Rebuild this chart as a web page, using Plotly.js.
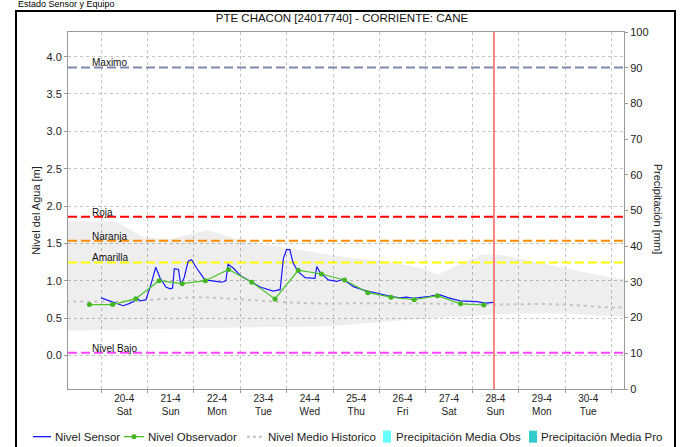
<!DOCTYPE html>
<html>
<head>
<meta charset="utf-8">
<script src="https://cdn.plot.ly/plotly-3.0.1.min.js"></script>
<style>
  html, body { margin:0; padding:0; background:#fff; width:684px; height:447px; overflow:hidden; }
  #chart { position:absolute; left:0; top:0; width:684px; height:447px; }
  #frame { position:absolute; left:15px; top:10px; width:661px; height:460px; box-sizing:border-box; border:2px solid #000; pointer-events:none; }
  #heading { position:absolute; left:18px; top:-1px; font-family:"Liberation Sans", Arial, sans-serif; font-size:9px; line-height:11px; color:#000; white-space:nowrap; }
</style>
</head>
<body>
<div id="heading">Estado Sensor y Equipo</div>
<div id="chart"></div>
<div id="frame"></div>
<script>
// ---------- data ----------
const chartTitle = 'PTE CHACON [24017740] - CORRIENTE: CANE';
const xRange = ['2024-04-19 06:56', '2024-05-01 06:30'];
const nowTime = '2024-04-28 11:15';

// day tick labels (placed at the middle of each day)
const tickDays = ['2024-04-20','2024-04-21','2024-04-22','2024-04-23','2024-04-24','2024-04-25','2024-04-26','2024-04-27','2024-04-28','2024-04-29','2024-04-30'];
const dayLabels = ['20-4','21-4','22-4','23-4','24-4','25-4','26-4','27-4','28-4','29-4','30-4'];
const weekdayLabels = ['Sat','Sun','Mon','Tue','Wed','Thu','Fri','Sat','Sun','Mon','Tue'];

// Nivel Sensor [m]
const sensorTime = ['2024-04-20 00:00','2024-04-20 04:30','2024-04-20 11:30','2024-04-20 14:10','2024-04-20 17:00','2024-04-20 18:40','2024-04-20 20:10','2024-04-20 23:15',
  '2024-04-21 01:30','2024-04-21 04:20','2024-04-21 06:30','2024-04-21 09:35','2024-04-21 11:45','2024-04-21 13:00','2024-04-21 13:55','2024-04-21 16:05','2024-04-21 17:15','2024-04-21 19:00','2024-04-21 21:05','2024-04-21 22:50',
  '2024-04-22 01:25','2024-04-22 05:45','2024-04-22 10:05','2024-04-22 14:25','2024-04-22 16:35','2024-04-22 17:45','2024-04-22 20:25',
  '2024-04-23 00:00','2024-04-23 10:20','2024-04-23 17:00','2024-04-23 20:40','2024-04-23 22:20',
  '2024-04-24 00:00','2024-04-24 01:40','2024-04-24 03:20','2024-04-24 06:00','2024-04-24 09:35','2024-04-24 14:40','2024-04-24 15:35','2024-04-24 17:15','2024-04-24 21:35',
  '2024-04-25 01:55','2024-04-25 05:15','2024-04-25 10:35','2024-04-25 17:30','2024-04-25 22:35',
  '2024-04-26 05:30','2024-04-26 10:35','2024-04-26 14:00','2024-04-26 17:30',
  '2024-04-27 02:10','2024-04-27 03:50','2024-04-27 07:25','2024-04-27 11:45','2024-04-27 17:45',
  '2024-04-28 02:25','2024-04-28 06:45','2024-04-28 11:00'];
const sensorLevel = [0.77,0.73,0.665,0.69,0.72,0.77,0.73,0.745,
  0.92,1.18,1.04,0.915,0.89,0.90,1.16,1.15,0.95,1.04,1.26,1.28,
  1.17,1.01,1.00,0.98,1.00,1.22,1.17,
  1.07,0.915,0.86,0.88,1.30,
  1.415,1.415,1.24,1.12,1.04,1.03,1.19,1.11,1.01,
  0.99,1.02,0.92,0.86,0.835,
  0.79,0.77,0.78,0.765,
  0.79,0.80,0.81,0.77,0.73,
  0.72,0.70,0.71];

// Nivel Observador [m]
const obsTime = ['2024-04-19 18:00','2024-04-20 06:00','2024-04-20 18:00','2024-04-21 06:00','2024-04-21 18:00','2024-04-22 06:00','2024-04-22 18:00','2024-04-23 06:00','2024-04-23 18:00',
  '2024-04-24 06:00','2024-04-24 18:00','2024-04-25 06:00','2024-04-25 18:00','2024-04-26 06:00','2024-04-26 18:00','2024-04-27 06:00','2024-04-27 18:00','2024-04-28 06:00'];
const obsLevel = [0.68,0.68,0.76,1.00,0.96,1.00,1.15,0.98,0.755,1.14,1.09,1.01,0.84,0.78,0.745,0.80,0.69,0.675];

// Nivel Medio Historico [m]
const meanTime = ['2024-04-19 06:00','2024-04-19 12:00','2024-04-20 00:00','2024-04-20 12:00','2024-04-21 00:00','2024-04-21 12:00','2024-04-22 00:00','2024-04-22 12:00','2024-04-23 00:00','2024-04-23 12:00',
  '2024-04-24 00:00','2024-04-24 12:00','2024-04-25 00:00','2024-04-25 12:00','2024-04-26 00:00','2024-04-26 12:00','2024-04-27 00:00','2024-04-27 12:00','2024-04-28 00:00','2024-04-28 12:00',
  '2024-04-29 00:00','2024-04-29 12:00','2024-04-30 00:00','2024-04-30 12:00','2024-05-01 00:00','2024-05-01 12:00'];
const meanLevel = [0.72,0.72,0.73,0.72,0.74,0.76,0.78,0.77,0.75,0.73,0.71,0.70,0.69,0.70,0.70,0.69,0.69,0.70,0.69,0.68,0.69,0.69,0.68,0.66,0.64,0.64];

// historical envelope (min / max) [m]
const bandTime = ['2024-04-19 06:00','2024-04-20 00:00','2024-04-20 08:00','2024-04-20 14:00','2024-04-20 22:00','2024-04-21 12:00','2024-04-22 00:00','2024-04-22 07:00','2024-04-23 00:00','2024-04-23 12:00',
  '2024-04-24 00:00','2024-04-24 12:00','2024-04-25 00:00','2024-04-25 12:00','2024-04-26 00:00','2024-04-26 12:00','2024-04-27 00:00','2024-04-27 06:00','2024-04-27 14:00','2024-04-28 05:00',
  '2024-04-28 14:00','2024-04-29 05:00','2024-04-30 00:00','2024-04-30 12:00','2024-05-01 00:00','2024-05-01 12:00'];
const bandMax = [1.80,1.80,1.79,1.70,1.58,1.56,1.64,1.68,1.54,1.48,1.44,1.39,1.34,1.30,1.27,1.22,1.15,1.08,1.18,1.35,1.35,1.27,1.17,1.10,1.04,1.01];
const bandMin = [0.33,0.34,0.34,0.345,0.35,0.36,0.37,0.37,0.38,0.38,0.38,0.38,0.39,0.42,0.44,0.47,0.49,0.50,0.52,0.54,0.55,0.56,0.56,0.54,0.52,0.51];

// precipitation [mm]
const precipObsDays = ['2024-04-20 12:00','2024-04-21 12:00','2024-04-22 12:00','2024-04-23 12:00','2024-04-24 12:00','2024-04-25 12:00','2024-04-26 12:00','2024-04-27 12:00'];
const precipObs = [0,0,0,0,0,0,0,0];
const precipProDays = ['2024-04-28 12:00','2024-04-29 12:00','2024-04-30 12:00'];
const precipPro = [0,0,0];

// alert thresholds [m]
const thresholdNames = ['Maximo','Roja','Naranja','Amarilla','Nivel Bajo'];
const thresholdValues = [3.855,1.855,1.535,1.245,0.035];
const thresholdColors = ['#7f87ad','#ff0000','#ff8c00','#ffff00','#ff44ff'];

// series names / colours (legend)
const seriesNames = ['Nivel Sensor','Nivel Observador','Nivel Medio Historico','Precipitación Media Obs','Precipitación Media Pro'];
const seriesColors = ['#1a1aff','#4cc42a','#c4c4c4','#66ffff','#33cccc'];

// ---------- build ----------
const FONT = '"Liberation Sans", Arial, sans-serif';
const traces = [];

traces.push({x: bandTime, y: bandMin, type:'scatter', mode:'lines', line:{width:0, color:'rgba(0,0,0,0)'}, showlegend:false, hoverinfo:'skip'});
traces.push({x: bandTime, y: bandMax, type:'scatter', mode:'lines', line:{width:0, color:'rgba(0,0,0,0)'}, fill:'tonexty', fillcolor:'rgba(0,0,0,0.065)', showlegend:false, hoverinfo:'skip'});

thresholdValues.forEach(function(v, i){
  traces.push({x: xRange, y: [v, v], type:'scatter', mode:'lines', line:{color: thresholdColors[i], width:2, dash:'9px,4px'}, showlegend:false, hoverinfo:'skip'});
});

traces.push({x: precipObsDays, y: precipObs, type:'bar', yaxis:'y2', name: seriesNames[3], marker:{color: seriesColors[3], line:{width:0}}, showlegend:false});
traces.push({x: precipProDays, y: precipPro, type:'bar', yaxis:'y2', name: seriesNames[4], marker:{color: seriesColors[4], line:{width:0}}, showlegend:false});
traces.push({x: meanTime, y: meanLevel, type:'scatter', mode:'lines', name: seriesNames[2], line:{color: seriesColors[2], width:2, dash:'3px,4px'}, showlegend:false});
traces.push({x: sensorTime, y: sensorLevel, type:'scatter', mode:'lines', name: seriesNames[0], line:{color: seriesColors[0], width:1.2}, showlegend:false});
traces.push({x: obsTime, y: obsLevel, type:'scatter', mode:'lines+markers', name: seriesNames[1], line:{color: seriesColors[1], width:1.2}, marker:{color:'#44b522', size:5, symbol:'circle'}, showlegend:false});

const annotations = thresholdNames.map(function(n, i){
  return {text: n, xref:'paper', x: 0.04, xanchor:'left', yref:'y', y: thresholdValues[i], yanchor:'bottom', yshift:-3, showarrow:false, font:{family:FONT, size:10, color:'#111'}};
});
annotations.push({text:'Precipitación [mm]', xref:'paper', x: 1.0, xshift: 34, xanchor:'center', yref:'paper', y:0.505, yanchor:'middle', textangle:90, showarrow:false, font:{family:FONT, size:11, color:'#222'}});

// ----- legend row (drawn below the plot, in paper units) -----
const PL = 68, PW = 556, PB = 389.3, PH = 357.3;
function px(x){ return (x - PL) / PW; }
function py(y){ return (PB - y) / PH; }
const legY = 437;
const legendSymbolX = [[33, 51], [124, 144], [247, 263], [383, 391], [529, 537]];
const legendTextX = [53, 146, 266, 394, 539];
const shapes = [{type:'line', xref:'x', yref:'paper', x0: nowTime, x1: nowTime, y0:0, y1:1, line:{color:'#ff5a5a', width:1.5}}];
seriesNames.forEach(function(n, i){
  const s = legendSymbolX[i];
  if (i < 3) {
    shapes.push({type:'line', xref:'paper', yref:'paper', x0: px(s[0]), x1: px(s[1]), y0: py(legY), y1: py(legY),
      line:{color: seriesColors[i], width: i === 2 ? 2 : 1.3, dash: i === 2 ? '3px,3px' : 'solid'}});
    if (i === 1) {
      const c = (s[0] + s[1]) / 2;
      shapes.push({type:'circle', xref:'paper', yref:'paper', x0: px(c - 2.5), x1: px(c + 2.5), y0: py(legY + 2.5), y1: py(legY - 2.5),
        fillcolor:'#44b522', line:{width:0}});
    }
  } else {
    shapes.push({type:'rect', xref:'paper', yref:'paper', x0: px(s[0]), x1: px(s[1]), y0: py(legY + 6), y1: py(legY - 6),
      fillcolor: seriesColors[i], line:{width:0}});
  }
  annotations.push({text: n, xref:'paper', x: px(legendTextX[i]), xanchor:'left', yref:'paper', y: py(legY), yanchor:'middle',
    showarrow:false, font:{family:FONT, size:11.5, color:'#222'}});
});

const tickNoon = tickDays.map(function(d){ return d + ' 12:00'; });
const tickText = dayLabels.map(function(d, i){ return d + '<br>' + weekdayLabels[i]; });

const layout = {
  width:684, height:447,
  margin:{l:68, r:60, t:32, b:58, autoexpand:false},
  paper_bgcolor:'rgba(0,0,0,0)', plot_bgcolor:'#ffffff',
  font:{family:FONT, size:11, color:'#222'},
  title:{text: chartTitle, x:0.5, xref:'container', y: 0.9597, yref:'container', yanchor:'middle', font:{family:FONT, size:11.5, color:'#111'}},
  showlegend:false,
  bargap:0.2,
  xaxis:{type:'date', range: xRange, tickmode:'array', tickvals: tickNoon, ticktext: tickText, ticks:'', showgrid:false,
    showline:true, linecolor:'#9a9a9a', linewidth:1, mirror:true, zeroline:false,
    tickfont:{family:FONT, size:10, color:'#222'},
    minor:{tick0:'2024-04-20', dtick:86400000, showgrid:true, gridcolor:'#c6c6c6', griddash:'dot', gridwidth:1, ticks:'outside', ticklen:3, tickcolor:'#999'}},
  yaxis:{range:[-0.45, 4.33], tickmode:'array', tickvals:[0,0.5,1,1.5,2,2.5,3,3.5,4], tickformat:'.1f', ticks:'outside', ticklen:3, tickcolor:'#999',
    showline:true, linecolor:'#9a9a9a', linewidth:1, zeroline:false, showgrid:true, gridcolor:'#c6c6c6', griddash:'dot', gridwidth:1,
    tickfont:{family:FONT, size:11, color:'#222'},
    title:{text:'Nivel del Agua [m]', standoff:3, font:{family:FONT, size:11, color:'#222'}}},
  yaxis2:{overlaying:'y', side:'right', range:[0,100], dtick:10, tick0:0, ticks:'outside', ticklen:3, tickcolor:'#999',
    showline:true, linecolor:'#9a9a9a', linewidth:1, zeroline:false, showgrid:false,
    tickfont:{family:FONT, size:11, color:'#222'}},
  shapes: shapes,
  annotations: annotations
};

Plotly.newPlot('chart', traces, layout, {displayModeBar:false, staticPlot:true});
</script>
</body>
</html>
